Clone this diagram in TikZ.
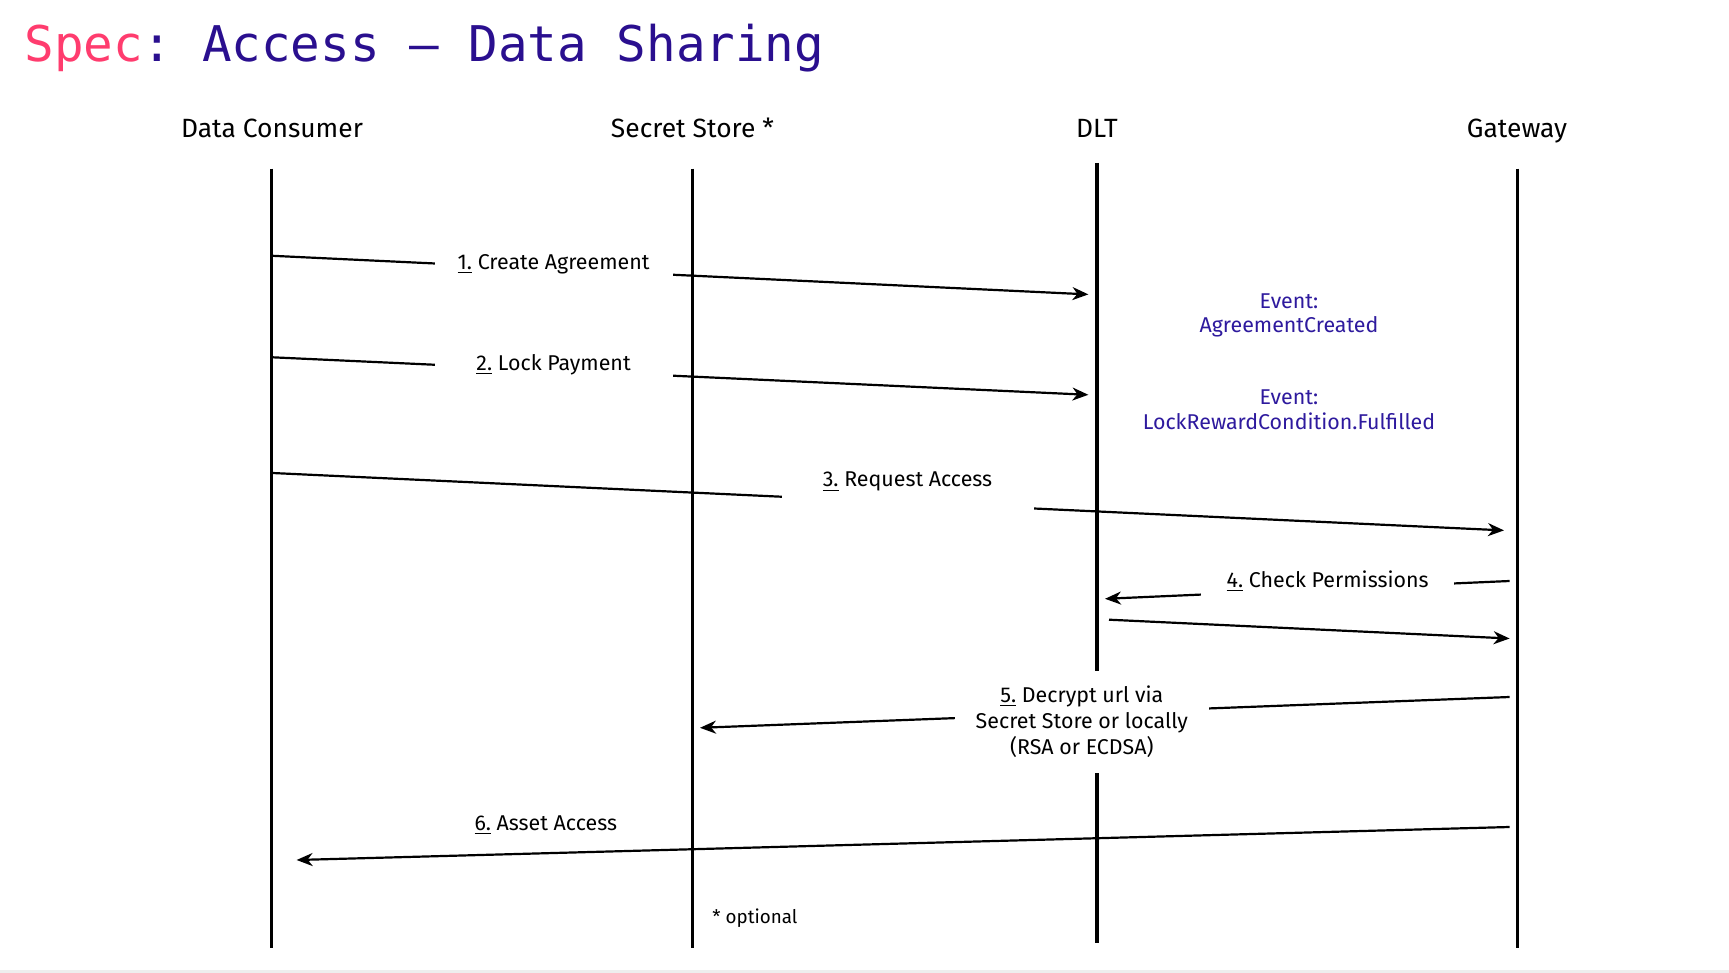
\documentclass[tikz,border=0pt]{standalone}
\usepackage{fontspec}
\setmainfont{Fira Sans}
\newfontfamily\titlefont{DejaVu Sans Mono}
\usetikzlibrary{arrows.meta}
\definecolor{specpink}{HTML}{FF3C6E}
\definecolor{specpurple}{HTML}{2A0F8F}
\definecolor{eventpurple}{HTML}{2E1A9E}
\definecolor{bandgray}{HTML}{EEEEEE}
\frenchspacing
\begin{document}
\begin{tikzpicture}[x=0.5pt,y=-0.5pt,
  lifeline/.style={line width=1.65pt,black},
  msg/.style={line width=1.1pt,black,-{Stealth[length=8pt,width=6.5pt,inset=2.5pt]}},
  header/.style={font=\fontsize{13.2}{15}\selectfont,inner sep=0pt,anchor=base},
  msglabel/.style={font=\fontsize{10.7}{13}\selectfont,fill=white,inner sep=0pt,align=center},
  eventlabel/.style={font=\fontsize{10.7}{12.3}\selectfont,text=eventpurple,align=center,inner sep=0pt},
]
\useasboundingbox (0,0) rectangle (1729,973);
\fill[white] (0,0) rectangle (1729,973);
\fill[bandgray] (0,970) rectangle (1729,973);

% title
\node[anchor=base west,inner sep=0pt] (title) at (24,62)
  {\titlefont\fontsize{24.6}{28}\selectfont\frenchspacing\textcolor{specpink}{Spec}\textcolor{specpurple}{: Access – Data Sharing}};

% headers
\node[header] (hdc) at (272,137.5) {Data Consumer};
\node[header] (hss) at (692.5,137.5) {Secret Store *};
\node[header] (hdlt) at (1097,137.5) {DLT};
\node[header] (hgw) at (1517,137.5) {Gateway};

% lifelines
\coordinate (dctop) at (271.3,168.7);
\coordinate (dcbot) at (271.3,948);
\coordinate (sstop) at (692.5,168.7);
\coordinate (ssbot) at (692.5,948);
\coordinate (dlttop) at (1097,163);
\coordinate (dltbot) at (1097,943);
\coordinate (gwtop) at (1517.3,168.7);
\coordinate (gwbot) at (1517.3,948);
\draw[lifeline] (dctop) -- (dcbot);
\draw[lifeline] (sstop) -- (ssbot);
\draw[lifeline] (dlttop) -- (dltbot);
\draw[lifeline] (gwtop) -- (gwbot);

% message end points
\coordinate (m1s) at (272.4,255.8);
\coordinate (m1e) at (1088.4,294.4);
\coordinate (m2s) at (272.4,357.3);
\coordinate (m2e) at (1088.4,394.8);
\coordinate (m3s) at (272.4,473);
\coordinate (m3e) at (1504,530.4);
\coordinate (m4s) at (1509.6,581);
\coordinate (m4e) at (1105,598.8);
\coordinate (m4rs) at (1109,619.7);
\coordinate (m4re) at (1509.6,638.5);
\coordinate (m5s) at (1509.6,697);
\coordinate (m5e) at (700,727.8);
\coordinate (m6s) at (1509.6,827);
\coordinate (m6e) at (296.6,860);

\draw[msg] (m1s) -- (m1e);
\draw[msg] (m2s) -- (m2e);
\draw[msg] (m3s) -- (m3e);
\draw[msg] (m4s) -- (m4e);
\draw[msg] (m4rs) -- (m4re);
\draw[msg] (m5s) -- (m5e);
\draw[msg] (m6s) -- (m6e);

% labels (white boxes cover the lines)
\node[msglabel,minimum width=119pt,minimum height=16pt] (l1) at (553.6,264.6) {\underline{1.} Create Agreement};
\node[msglabel,minimum width=119pt,minimum height=16pt] (l2) at (553.6,365) {\underline{2.} Lock Payment};
\node[msglabel,minimum width=126pt,minimum height=32pt] (l3) at (907.5,481.9) {\underline{3.} Request Access};
\node[msglabel,minimum width=126.75pt,minimum height=19pt] (l4) at (1327.6,581.2) {\underline{4.} Check Permissions};
\node[msglabel,minimum width=126.75pt,minimum height=51pt] (l5) at (1081.8,721.5) {\underline{5.} Decrypt url via\\Secret Store or locally\\(RSA or ECDSA)};
\node[msglabel,fill=none] (l6) at (545.8,824.8) {\underline{6.} Asset Access};

% events
\node[eventlabel] (ev1) at (1289,315.5) {Event:\\AgreementCreated};
\node[eventlabel] (ev2) at (1289,410) {Event:\\LockRewardCondition.Fulfilled};

% note
\node[anchor=west,inner sep=0pt,font=\fontsize{9.4}{11}\selectfont] (note) at (712,918) {* optional};
\end{tikzpicture}
\end{document}
